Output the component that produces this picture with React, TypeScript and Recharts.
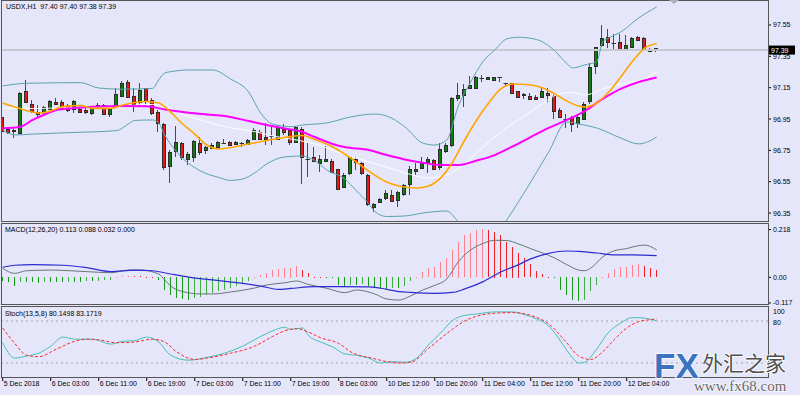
import React from 'react';
import { ComposedChart, Bar, Line, XAxis, YAxis, ReferenceLine } from 'recharts';

const FONT = '"Liberation Sans", Arial, Helvetica, sans-serif';
const BG = '#E6E6FA';

// ---------- USDX H1 candles ----------
const openP = [96.961,96.884,96.872,96.863,97.127,97.046,96.997,96.995,97.016,97.061,97.061,97.035,97.018,97.016,97.008,96.986,97.038,97.038,96.986,97.027,
  97.097,97.188,97.097,97.061,97.146,97.071,96.997,96.918,96.650,96.748,96.795,96.695,96.710,96.795,96.752,96.769,96.773,96.799,96.805,96.795,
  96.798,96.789,96.821,96.869,96.837,96.840,96.822,96.886,96.880,96.805,96.888,96.693,96.706,96.669,96.684,96.685,96.628,96.518,96.604,96.697,
  96.669,96.593,96.390,96.416,96.441,96.465,96.433,96.471,96.532,96.616,96.635,96.678,96.688,96.642,96.748,96.781,97.087,97.103,97.146,97.146,
  97.212,97.201,97.201,97.217,97.178,97.180,97.127,97.110,97.100,97.092,97.089,97.118,97.099,97.008,96.955,96.961,96.923,96.948,97.061,97.288,
  97.418,97.475,97.434,97.440,97.397,97.411,97.475,97.469,97.384,97.400];
const highP = [96.965,96.891,96.886,97.122,97.199,97.071,97.039,97.033,97.071,97.082,97.071,97.044,97.071,97.029,97.018,97.033,97.050,97.044,97.029,97.146,
  97.195,97.199,97.146,97.178,97.150,97.082,97.008,96.923,96.752,96.905,96.805,96.741,96.816,96.833,96.778,96.795,96.812,96.821,96.810,96.810,
  96.801,96.821,96.891,96.880,96.923,96.905,96.912,96.918,96.886,96.905,96.897,96.795,96.773,96.720,96.778,96.693,96.634,96.604,96.710,96.710,
  96.678,96.599,96.412,96.444,96.497,96.497,96.493,96.535,96.652,96.667,96.706,96.706,96.693,96.799,96.795,97.089,97.180,97.173,97.223,97.223,
  97.231,97.218,97.221,97.221,97.182,97.182,97.129,97.114,97.114,97.103,97.152,97.146,97.103,97.018,96.982,96.969,96.982,97.061,97.309,97.411,
  97.550,97.522,97.493,97.491,97.486,97.475,97.480,97.473,97.401,97.400];
const lowP = [96.827,96.854,96.827,96.859,97.055,96.990,96.955,96.982,97.012,97.039,97.018,96.997,96.986,96.986,96.982,96.976,97.012,96.976,96.961,97.022,
  97.089,97.082,96.997,97.029,97.033,96.976,96.869,96.625,96.544,96.710,96.688,96.657,96.678,96.720,96.727,96.759,96.769,96.795,96.778,96.784,
  96.769,96.784,96.816,96.816,96.784,96.784,96.816,96.845,96.784,96.797,96.535,96.582,96.674,96.612,96.678,96.609,96.497,96.508,96.593,96.625,
  96.593,96.392,96.359,96.412,96.433,96.420,96.390,96.459,96.465,96.593,96.631,96.604,96.625,96.625,96.733,96.773,97.065,97.027,97.142,97.142,
  97.189,97.196,97.197,97.189,97.156,97.108,97.084,97.078,97.071,97.071,97.082,97.061,96.948,96.955,96.891,96.869,96.891,96.944,97.046,97.237,
  97.411,97.401,97.395,97.386,97.390,97.408,97.456,97.387,97.380,97.380];
const closeP = [96.869,96.863,96.878,97.118,97.059,97.003,96.986,97.027,97.067,97.046,97.025,97.008,97.067,96.997,96.997,97.025,97.025,96.980,97.016,97.110,
  97.178,97.092,97.046,97.135,97.061,96.986,96.926,96.642,96.738,96.805,96.706,96.725,96.810,96.735,96.769,96.786,96.805,96.800,96.784,96.805,
  96.799,96.816,96.880,96.822,96.822,96.839,96.899,96.869,96.803,96.899,96.710,96.692,96.678,96.697,96.698,96.614,96.503,96.593,96.706,96.678,
  96.604,96.408,96.408,96.438,96.476,96.427,96.486,96.529,96.629,96.631,96.667,96.697,96.629,96.757,96.784,97.082,97.103,97.140,97.164,97.218,
  97.213,97.215,97.218,97.218,97.177,97.116,97.089,97.106,97.079,97.078,97.127,97.108,97.001,96.961,96.953,96.918,96.961,97.046,97.280,97.408,
  97.465,97.440,97.432,97.390,97.422,97.469,97.459,97.390,97.397,97.390];

// ---------- MACD histogram (one per bar) ----------
const macdHist = [-0.020,-0.025,-0.040,-0.025,-0.025,-0.025,-0.028,-0.025,-0.025,-0.025,-0.025,-0.022,-0.022,-0.022,-0.020,-0.020,-0.018,-0.015,-0.012,0.002,
  0.005,0.006,0.005,0.004,0.003,0.001,-0.012,-0.058,-0.081,-0.096,-0.100,-0.103,-0.097,-0.091,-0.082,-0.073,-0.065,-0.058,-0.050,-0.040,
  -0.027,-0.020,0.003,0.011,0.021,0.033,0.037,0.044,0.044,0.052,0.033,0.018,0.003,0.002,-0.002,-0.003,-0.035,-0.040,-0.035,-0.035,
  -0.030,-0.040,-0.050,-0.050,-0.058,-0.050,-0.050,-0.043,-0.020,0.002,0.026,0.041,0.049,0.072,0.087,0.125,0.163,0.193,0.204,0.216,
  0.222,0.216,0.209,0.193,0.163,0.140,0.113,0.087,0.061,0.030,0.015,0.003,-0.005,-0.058,-0.081,-0.103,-0.111,-0.103,-0.065,-0.035,
  0.000,0.021,0.037,0.046,0.049,0.056,0.061,0.052,0.041,0.032];

// ---------- indicator lines: [bar index, value] ----------
const bbUpper: [number, number][] = [[0,97.161],[4,97.178],[13,97.182],[16,97.148],[20,97.140],[25,97.146],[26,97.199],[27,97.244],[28,97.252],[31,97.263],[35,97.263],[38,97.205],[41,97.122],[43,96.988],[45,96.918],[48,96.901],[50,96.912],[54,96.925],[58,96.963],[62,96.982],[64,96.969],[67,96.901],[70,96.797],[72,96.784],[74,96.816],[76,97.039],[78,97.186],[80,97.314],[82,97.390],[84,97.461],[86,97.472],[88,97.465],[90,97.442],[92,97.385],[94,97.305],[95,97.276],[97,97.295],[99,97.316],[100,97.442],[101,97.467],[103,97.505],[106,97.595],[109,97.665]];
const bbLower: [number, number][] = [[0,96.880],[2,96.848],[5,96.854],[11,96.863],[19,96.876],[21,96.920],[22,96.941],[25,96.944],[26,96.925],[27,96.848],[29,96.740],[33,96.618],[36,96.577],[38,96.558],[40,96.567],[42,96.606],[44,96.663],[47,96.708],[50,96.714],[52,96.685],[54,96.625],[57,96.568],[59,96.490],[61,96.410],[62,96.360],[64,96.328],[67,96.331],[70,96.350],[74,96.363],[76,96.293],[78,96.230],[80,96.190],[82,96.200],[84,96.306],[88,96.548],[91,96.740],[94,96.931],[96,96.918],[99,96.893],[103,96.829],[106,96.791],[109,96.835]];
const bbMiddle: [number, number][] = [[0,97.020],[5,97.017],[11,97.022],[18,97.023],[22,97.039],[25,97.043],[27,97.040],[29,96.995],[33,96.944],[38,96.893],[42,96.870],[45,96.842],[49,96.816],[52,96.791],[57,96.724],[61,96.676],[64,96.644],[68,96.596],[71,96.574],[74,96.593],[77,96.667],[80,96.771],[84,96.893],[87,96.969],[90,97.049],[93,97.113],[95,97.119],[97,97.103],[100,97.142],[104,97.180],[107,97.206],[109,97.250]];
const maFast: [number, number][] = [[0,97.052],[2,97.027],[4,97.003],[6,96.988],[8,97.001],[10,97.030],[13,97.036],[15,97.018],[18,97.018],[20,97.039],[22,97.055],[24,97.062],[26,97.052],[28,96.994],[30,96.918],[32,96.854],[34,96.784],[36,96.759],[38,96.768],[41,96.791],[44,96.813],[47,96.832],[50,96.845],[52,96.819],[55,96.771],[58,96.701],[61,96.618],[64,96.548],[66,96.523],[69,96.510],[71,96.523],[73,96.574],[75,96.676],[77,96.816],[79,96.944],[81,97.052],[83,97.142],[85,97.173],[88,97.167],[90,97.148],[92,97.110],[94,97.065],[96,97.033],[97,97.027],[99,97.052],[101,97.122],[103,97.218],[105,97.320],[107,97.403],[109,97.432]];
const maSlow: [number, number][] = [[0,96.891],[3,96.901],[5,96.944],[7,96.979],[9,97.008],[12,97.020],[15,97.029],[20,97.033],[24,97.031],[27,97.011],[31,96.990],[34,96.979],[37,96.969],[41,96.937],[44,96.912],[47,96.889],[50,96.867],[52,96.835],[55,96.791],[57,96.771],[61,96.752],[64,96.720],[67,96.692],[70,96.671],[73,96.657],[76,96.657],[79,96.685],[82,96.720],[85,96.775],[88,96.835],[91,96.893],[94,96.944],[97,97.001],[100,97.078],[103,97.142],[106,97.186],[109,97.215]];

const macdMain: [number, number][] = [[0,0.041],[2,0.018],[4,0.030],[8,0.033],[14,0.026],[18,0.021],[21,0.033],[23,0.033],[26,0.015],[27,-0.012],[28,-0.040],[30,-0.065],[33,-0.076],[35,-0.076],[38,-0.067],[42,-0.049],[44,-0.035],[47,-0.025],[49,-0.017],[51,-0.033],[54,-0.050],[57,-0.070],[59,-0.058],[62,-0.076],[64,-0.099],[66,-0.104],[68,-0.085],[70,-0.058],[72,-0.037],[74,-0.008],[76,0.074],[78,0.125],[80,0.154],[82,0.169],[84,0.168],[86,0.152],[88,0.131],[90,0.111],[92,0.088],[94,0.058],[96,0.033],[97,0.030],[98,0.042],[100,0.093],[102,0.122],[104,0.131],[106,0.145],[107,0.147],[109,0.125]];
const macdSignal: [number, number][] = [[0,0.046],[2,0.055],[5,0.058],[10,0.055],[14,0.044],[18,0.026],[22,0.033],[25,0.030],[28,0.015],[31,0.001],[35,-0.012],[40,-0.028],[43,-0.040],[46,-0.055],[48,-0.051],[52,-0.043],[56,-0.043],[61,-0.044],[63,-0.050],[66,-0.065],[68,-0.069],[72,-0.073],[75,-0.069],[77,-0.053],[80,-0.021],[83,0.024],[86,0.058],[88,0.084],[91,0.109],[94,0.120],[96,0.118],[99,0.111],[102,0.102],[105,0.102],[109,0.099]];

const stochMain: [number, number][] = [[0,49],[2,27],[4,30],[6,34],[8,44],[10,57],[12,54],[15,54],[18,47],[20,51],[22,52],[24,57],[26,50],[28,31],[31,24],[34,28],[37,34],[40,44],[43,58],[45,66],[47,71],[48,68],[50,70],[51,59],[53,50],[55,43],[57,33],[59,31],[61,27],[63,20],[65,22],[67,21],[69,27],[71,46],[73,63],[75,81],[77,88],[79,90],[82,93],[85,93],[87,89],[89,83],[91,73],[93,51],[95,27],[96,20],[97,21],[99,40],[101,64],[103,77],[105,85],[107,84],[109,80.15]];
const stochSignal: [number, number][] = [[0,70],[2,48],[4,31],[6,29],[9,40],[12,51],[14,54],[16,53],[19,49],[22,50],[25,54],[27,50],[29,36],[32,25],[34,27],[38,34],[42,44],[45,58],[47,66],[49,69],[51,64],[53,56],[56,48],[58,36],[62,26],[64,22],[66,20],[68,21],[71,41],[74,62],[77,80],[80,89],[82,91],[85,92],[88,88],[91,76],[94,49],[96,30],[98,25],[100,36],[102,54],[104,70],[106,79],[108,82],[109,83.17]];

// ---------- axes ----------
const priceTicks = [97.55, 97.35, 97.15, 96.95, 96.75, 96.55, 96.35];
const macdTicks = [0.218, 0, -0.117];
const stochTicks = [100, 80];
const stochLevels = [80, 20];
const bidPrice = 97.39;
const timeTickIdx = [0, 8, 16, 24, 32, 40, 48, 56, 64, 72, 80, 88, 96, 104];
const timeTickLabels = ['5 Dec 2018', '6 Dec 03:00', '6 Dec 11:00', '6 Dec 19:00', '7 Dec 03:00', '7 Dec 11:00', '7 Dec 19:00',
  '8 Dec 03:00', '10 Dec 12:00', '10 Dec 20:00', '11 Dec 04:00', '11 Dec 12:00', '11 Dec 20:00', '12 Dec 04:00'];

const X_DOMAIN: [number, number] = [-0.1167, 127.55];
const PRICE_DOMAIN: [number, number] = [96.2992, 97.7031];
const MACD_DOMAIN: [number, number] = [-0.1219, 0.2434];
const STOCH_DOMAIN: [number, number] = [0, 100];

const histColor = (k: number) => {
  const v = macdHist[k];
  const prev = k > 0 ? macdHist[k - 1] : v;
  if (v >= 0) return v >= prev ? '#FF7F8A' : '#F01E1E';
  return v <= prev ? '#179A17' : '#3FB03F';
};

const rows = openP.map((o, i) => ({ i, o, h: highP[i], l: lowP[i], c: closeP[i], hist: macdHist[i], hc: histColor(i) }));
const pts = (a: [number, number][]) => a.map(([i, v]) => ({ i, v }));

const CandleShape = (props: any) => {
  const { x, y, width, height, payload } = props;
  if (x == null || y == null || !payload) return null;
  const top = Math.min(y, y + height);
  const h = Math.abs(height);
  const R = Math.round(x + width / 2);
  const range = payload.h - payload.l;
  const py = (p: number) => (range > 0 ? top + ((payload.h - p) / range) * h : top);
  const yO = py(payload.o);
  const yC = py(payload.c);
  const doji = Math.abs(payload.c - payload.o) < 0.0025;
  const bull = payload.c > payload.o;
  const bTop = Math.round(Math.min(yO, yC));
  const bH = Math.max(1, Math.round(Math.abs(yO - yC)));
  return (
    <g>
      <line x1={R - 0.5} x2={R - 0.5} y1={Math.round(top)} y2={Math.round(top + h)} style={{ stroke: '#4a4a4a', strokeWidth: 1 }} />
      {doji ? (
        <line x1={R - 2.5} x2={R + 2} y1={Math.round(yC) + 0.5} y2={Math.round(yC) + 0.5} style={{ stroke: '#303030', strokeWidth: 1 }} />
      ) : (
        <rect x={R - 1.5} y={bTop + 0.5} width={3} height={bH} style={{ fill: bull ? '#0A7F0A' : '#F01515', stroke: '#2c2c2c', strokeWidth: 1 }} />
      )}
    </g>
  );
};

const HistShape = (props: any) => {
  const { x, y, width, height, payload } = props;
  if (x == null || y == null || !payload) return null;
  const top = Math.round(Math.min(y, y + height));
  const h = Math.max(1, Math.round(Math.abs(height)));
  const R = Math.round(x + width / 2);
  return <path d={`M${R - 1},${top}h1v${h}h-1z`} style={{ fill: payload.hc, stroke: 'none' }} />;
};

const tickStyle = { fontSize: 7, fill: '#000', fontFamily: FONT };

const BidLabel = (p: any) => {
  const vb = p.viewBox || {};
  if (vb.x == null) return null;
  const lx = vb.x + vb.width + 1;
  return (
    <g>
      <rect x={lx} y={vb.y - 4.5} width={26} height={9} style={{ fill: '#000' }} />
      <text x={lx + 2} y={vb.y} dy="0.35em" fontSize={7} fontFamily={FONT} style={{ fill: '#fff' }}>{bidPrice.toFixed(2)}</text>
    </g>
  );
};

const StochTick = (p: any) => {
  const { x, y, payload } = p;
  const dy = payload.value === 100 ? 5 : 2;
  return <text x={x} y={y + dy} dy="0.35em" fontSize={7} fontFamily={FONT} fill="#000">{payload.value}</text>;
};

const TimeTick = (p: any) => {
  const { x, y, payload } = p;
  const k = timeTickIdx.indexOf(payload.value);
  return <text x={x + 1} y={y} dy="0.71em" fontSize={7} fontFamily={FONT} fill="#000">{timeTickLabels[k]}</text>;
};

const lineCommon = { dot: false, activeDot: false, isAnimationActive: false, type: 'monotone' as const, dataKey: 'v' };

export default function App() {
  const last = rows[rows.length - 1];
  const title = `USDX,H1  ${last.o.toFixed(2)} ${last.h.toFixed(2)} ${last.l.toFixed(2)} ${last.c.toFixed(2)}`;
  const border = '#555';
  return (
    <div style={{ position: 'absolute', left: 0, top: 0, width: 800, height: 395, background: BG, overflow: 'hidden', fontFamily: FONT }}>
      {/* main price panel */}
      <div style={{ position: 'absolute', left: 2, top: 1 }}>
        <ComposedChart width={798} height={220} data={rows} margin={{ top: 0, right: 0, bottom: 0, left: 0 }}>
          <XAxis type="number" dataKey="i" domain={X_DOMAIN} allowDataOverflow hide />
          <YAxis orientation="right" width={32} type="number" domain={PRICE_DOMAIN} allowDataOverflow ticks={priceTicks} interval={0}
            tick={tickStyle} tickLine={{ stroke: '#000' }} tickSize={3} tickMargin={2} axisLine={false} tickFormatter={(v: number) => v.toFixed(2)} />
          <ReferenceLine y={bidPrice} stroke="#C8C8D2" strokeWidth={2} label={BidLabel} />
          <Bar dataKey={(d: any) => [d.l, d.h]} barSize={5} shape={<CandleShape />} isAnimationActive={false} />
          <Line data={pts(bbUpper)} stroke="#58A4AE" strokeWidth={1} {...lineCommon} />
          <Line data={pts(bbLower)} stroke="#58A4AE" strokeWidth={1} {...lineCommon} />
          <Line data={pts(bbMiddle)} stroke="#FFFFFF" strokeWidth={1} {...lineCommon} />
          <Line data={pts(maSlow)} stroke="#FF00FF" strokeWidth={2} {...lineCommon} />
          <Line data={pts(maFast)} stroke="#FFA500" strokeWidth={1.6} {...lineCommon} />
        </ComposedChart>
      </div>

      {/* MACD panel */}
      <div style={{ position: 'absolute', left: 2, top: 224 }}>
        <ComposedChart width={798} height={86} data={rows} margin={{ top: 0, right: 0, bottom: 6, left: 0 }}>
          <XAxis type="number" dataKey="i" domain={X_DOMAIN} allowDataOverflow hide />
          <YAxis orientation="right" width={32} type="number" domain={MACD_DOMAIN} allowDataOverflow ticks={macdTicks} interval={0}
            tick={tickStyle} tickLine={{ stroke: '#000' }} tickSize={3} tickMargin={2} axisLine={false}
            tickFormatter={(v: number) => (v === 0 ? '0.00' : v.toFixed(3))} />
          <Bar dataKey="hist" barSize={2} shape={<HistShape />} isAnimationActive={false} />
          <Line data={pts(macdMain)} stroke="#667676" strokeWidth={1} {...lineCommon} />
          <Line data={pts(macdSignal)} stroke="#2B2BD2" strokeWidth={1.2} {...lineCommon} />
        </ComposedChart>
      </div>

      {/* Stochastic panel */}
      <div style={{ position: 'absolute', left: 2, top: 307 }}>
        <ComposedChart width={798} height={88} data={rows} margin={{ top: 0, right: 0, bottom: 0, left: 0 }}>
          <XAxis type="number" dataKey="i" domain={X_DOMAIN} allowDataOverflow ticks={timeTickIdx} interval={0} height={18}
            axisLine={false} tickLine={{ stroke: '#000' }} tickSize={4} tickMargin={0} tick={<TimeTick />} />
          <YAxis orientation="right" width={32} type="number" domain={STOCH_DOMAIN} allowDataOverflow ticks={stochTicks} interval={0}
            tick={<StochTick />} tickLine={false} tickSize={3} tickMargin={2} axisLine={false} />
          {stochLevels.map((lv) => (
            <ReferenceLine key={lv} y={lv} stroke="#A4A4AE" strokeDasharray="2 3" strokeWidth={1} />
          ))}
          <Line data={pts(stochMain)} stroke="#43C0B8" strokeWidth={1} {...lineCommon} />
          <Line data={pts(stochSignal)} stroke="#FF2626" strokeWidth={1} strokeDasharray="3 2" {...lineCommon} />
        </ComposedChart>
      </div>

      {/* panel frames */}
      <div style={{ position: 'absolute', left: 1, top: 0, width: 768, height: 222, boxSizing: 'border-box', border: `1px solid ${border}`, pointerEvents: 'none' }} />
      <div style={{ position: 'absolute', left: 1, top: 223, width: 768, height: 82, boxSizing: 'border-box', border: `1px solid ${border}`, pointerEvents: 'none' }} />
      <div style={{ position: 'absolute', left: 1, top: 306, width: 768, height: 72, boxSizing: 'border-box', border: `1px solid ${border}`, pointerEvents: 'none' }} />

      {/* titles */}
      <div style={{ position: 'absolute', left: 6, top: 2, fontSize: 7, lineHeight: '9px', color: '#000', whiteSpace: 'pre' }}>{title}</div>
      <div style={{ position: 'absolute', left: 5, top: 225, fontSize: 7, lineHeight: '9px', color: '#000', whiteSpace: 'pre' }}>MACD(12,26,20) 0.113 0.088 0.032 0.000</div>
      <div style={{ position: 'absolute', left: 5, top: 309, fontSize: 7, lineHeight: '9px', color: '#000', whiteSpace: 'pre' }}>Stoch(13,5,8) 80.1498 83.1719</div>

      {/* chart-shift marker */}
      <svg style={{ position: 'absolute', left: 668, top: 0 }} width={12} height={6}>
        <polygon points="1,0 11,0 6,4" fill="#B0B0B8" />
      </svg>

      {/* watermark */}
      <svg style={{ position: 'absolute', left: 640, top: 340 }} width={160} height={55}>
        <text x={14} y={38} fontSize={35} fontWeight="bold" fontFamily={FONT} fill="#3A74C0" stroke="#FFFFFF" strokeWidth={1.5} paintOrder="stroke">FX</text>
        <text x={62} y={31} fontSize={21} fontFamily='"Noto Sans CJK SC", sans-serif' fill="#4E4E4E" stroke="#FFFFFF" strokeWidth={1.5} paintOrder="stroke">外汇之家</text>
        <text x={54} y={51} fontSize={15} fontFamily='"Liberation Serif", serif' fill="#666" stroke="#FFFFFF" strokeWidth={1} paintOrder="stroke">www.fx68.com</text>
      </svg>
    </div>
  );
}
